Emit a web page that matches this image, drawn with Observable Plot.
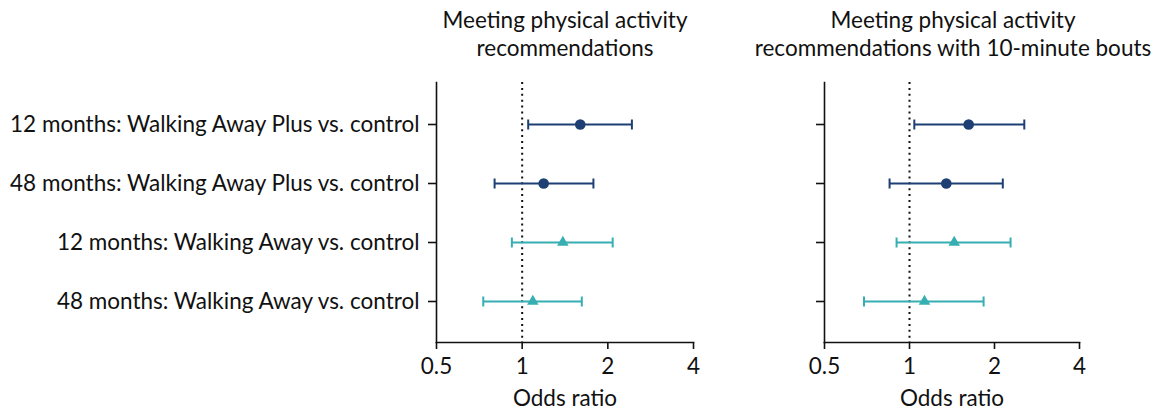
<!DOCTYPE html>
<html>
<head>
<meta charset="utf-8">
<script src="https://cdn.jsdelivr.net/npm/d3@7"></script>
<script src="https://cdn.jsdelivr.net/npm/@observablehq/plot@0.6"></script>
<style>
  html, body { margin: 0; padding: 0; background: #fff; }
  #wrap { position: relative; width: 1155px; height: 412px; font-family: Lato, "Noto Sans", sans-serif; color: #111; }
  .panel { position: absolute; top: 0; }
  .title { position: absolute; top: 6px; width: 460px; text-align: center; font-size: 22.5px; line-height: 28px; }
</style>
</head>
<body>
<div id="wrap"></div>
<script>
const rows = [
  "12 months: Walking Away Plus vs. control",
  "48 months: Walking Away Plus vs. control",
  "12 months: Walking Away vs. control",
  "48 months: Walking Away vs. control"
];
const groups = ["Walking Away Plus", "Walking Away Plus", "Walking Away", "Walking Away"];
const titles = ["Meeting physical activity recommendations", "Meeting physical activity recommendations with 10-minute bouts"];
const titleLines = [["Meeting physical activity", "recommendations"], ["Meeting physical activity", "recommendations with 10-minute bouts"]];

const orPA = [1.60, 1.19, 1.39, 1.09];
const loPA = [1.05, 0.80, 0.92, 0.73];
const hiPA = [2.43, 1.78, 2.08, 1.62];

const orBout = [1.62, 1.35, 1.44, 1.13];
const loBout = [1.04, 0.85, 0.90, 0.69];
const hiBout = [2.55, 2.14, 2.28, 1.83];

const xTicks = [0.5, 1, 2, 4];
const xLabel = "Odds ratio";
const groupColors = ["#1d3f74", "#37aeb1"];

const capSymbol = {draw(ctx) { ctx.moveTo(0, -5); ctx.lineTo(0, 5); }};

function panel(or, lo, hi, opts) {
  const data = rows.map((r, i) => ({row: r, group: groups[i], or: or[i], lo: lo[i], hi: hi[i]}));
  const circ = data.filter(d => d.group === groups[0]);
  const tri = data.filter(d => d.group !== groups[0]);
  return Plot.plot({
    width: opts.width,
    height: 412,
    marginLeft: opts.marginLeft,
    marginRight: opts.marginRight,
    marginTop: 82,
    marginBottom: 70,
    style: {fontFamily: "Lato, 'Noto Sans', sans-serif", fontSize: "22.5px", color: "#111", background: "transparent"},
    x: {type: "log", domain: [0.5, 4], ticks: xTicks, tickFormat: d => String(d)},
    y: {type: "point", domain: rows, padding: 0.7},
    color: {domain: [groups[0], groups[2]], range: groupColors},
    marks: [
      Plot.axisX({ticks: xTicks, tickFormat: d => String(d), tickSize: 7, tickPadding: 9, label: xLabel, labelAnchor: "center", labelArrow: "none", labelOffset: 63, stroke: "#111", strokeWidth: 1.6}),
      Plot.axisY({tickSize: 8, tickPadding: 9, tickFormat: opts.showLabels ? (d => d) : (() => ""), label: null, stroke: "#111", strokeWidth: 1.6}),
      Plot.frame({anchor: "left", stroke: "#111", strokeWidth: 1.6}),
      Plot.frame({anchor: "bottom", stroke: "#111", strokeWidth: 1.6}),
      Plot.ruleX([1], {stroke: "#111", strokeWidth: 2, strokeDasharray: "2,3.9"}),
      Plot.link(data, {x1: "lo", x2: "hi", y1: "row", y2: "row", stroke: "group", strokeWidth: 2}),
      Plot.dot(data, {x: "lo", y: "row", stroke: "group", strokeWidth: 2, symbol: capSymbol}),
      Plot.dot(data, {x: "hi", y: "row", stroke: "group", strokeWidth: 2, symbol: capSymbol}),
      Plot.dot(circ, {x: "or", y: "row", fill: "group", r: 5.3, symbol: "circle"}),
      Plot.dot(tri, {x: "or", y: "row", fill: "group", r: 4.3, symbol: "triangle"})
    ]
  });
}

const wrap = document.getElementById("wrap");
const p1 = panel(orPA, loPA, hiPA, {width: 760, marginLeft: 436, marginRight: 67, showLabels: true});
p1.classList.add("panel"); p1.style.left = "0px";
const p2 = panel(orBout, loBout, hiBout, {width: 415, marginLeft: 84, marginRight: 76, showLabels: false});
p2.classList.add("panel"); p2.style.left = "740px";
wrap.appendChild(p1);
wrap.appendChild(p2);

const centers = [565, 953];
titleLines.forEach((lines, i) => {
  const t = document.createElement("div");
  t.className = "title";
  t.style.left = (centers[i] - 230) + "px";
  t.innerHTML = lines.map(l => `<div>${l}</div>`).join("");
  t.setAttribute("aria-label", titles[i]);
  wrap.appendChild(t);
});
</script>
</body>
</html>
